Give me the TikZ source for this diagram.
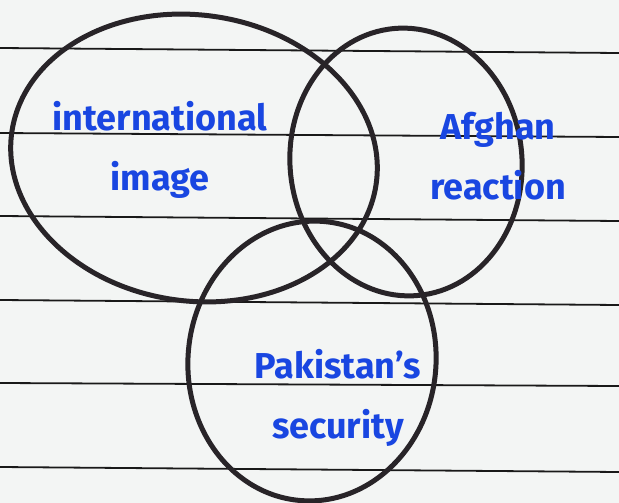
\documentclass[tikz,border=0pt]{standalone}
\usepackage{fontspec}
\setmainfont{Fira Sans}
\usetikzlibrary{shapes.geometric}
\definecolor{paper}{RGB}{243,245,244}
\definecolor{rule}{RGB}{25,25,25}
\definecolor{ink}{RGB}{25,70,225}
\definecolor{pencil}{RGB}{40,36,40}

\begin{document}
\begin{tikzpicture}[x=1pt,y=-1pt,
  ring/.style={ellipse,draw=pencil,line width=5pt,inner sep=0pt},
  word/.style={text=ink,font=\fontsize{36}{60}\selectfont\bfseries,align=center},
  line/.style={draw=rule,line width=1.8pt}]
\fill[paper] (0,0) rectangle (619,503);
\useasboundingbox (0,0) rectangle (619,503);
% ruled paper
\foreach \ya/\yb in {48/53,133/137,216/221,300/305,383/386,467/472}
  \draw[line] (0,\ya) -- (619,\yb);
% circles
\node[ring,minimum width=368pt,minimum height=286pt,rotate=-8] (intl) at (194,158) {};
\node[ring,minimum width=232pt,minimum height=268pt,rotate=5] (afghan) at (406,162) {};
\node[ring,minimum width=248pt,minimum height=280pt,rotate=-5] (pak) at (312,361) {};
% labels
\node[word] (intltext) at (160,150) {international\\image};
\node[word] (afghantext) at (498,156) {Afghan\\reaction};
\node[word] (paktext) at (338,398) {Pakistan's\\security};
\end{tikzpicture}
\end{document}
